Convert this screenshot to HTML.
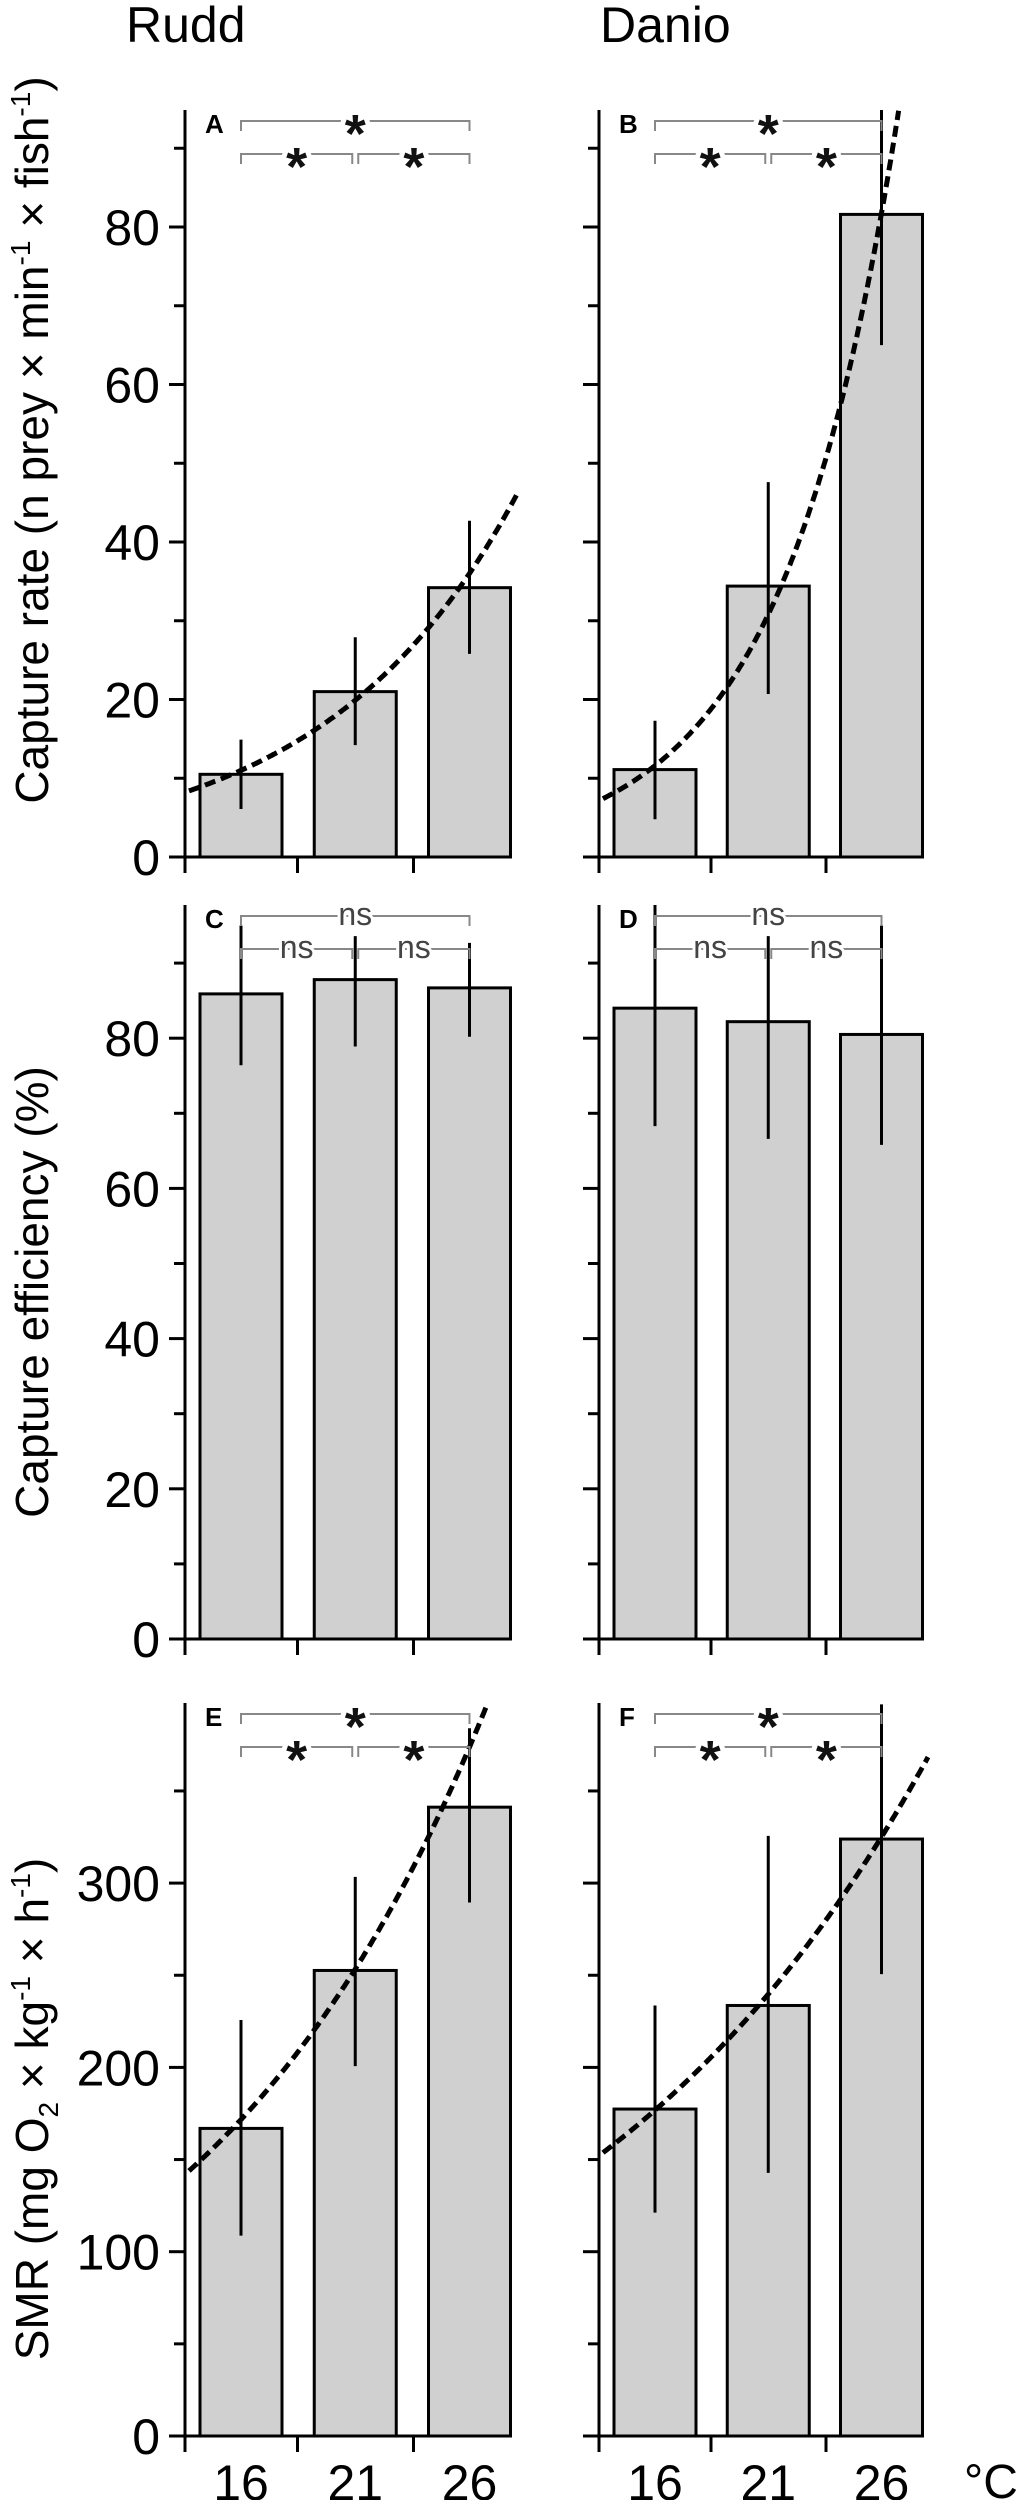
<!DOCTYPE html>
<html><head><meta charset="utf-8"><title>Capture rate, efficiency and SMR</title>
<style>
html,body{margin:0;padding:0;background:#fff;}
svg{display:block;font-family:"Liberation Sans",Arial,sans-serif;}
</style></head>
<body>
<svg id="fig" width="1021" height="2500" viewBox="0 0 1021 2500" xmlns="http://www.w3.org/2000/svg">
<text x="126" y="42" font-size="50">Rudd</text>
<text x="600" y="42" font-size="50">Danio</text>
<text transform="translate(48,440) rotate(-90)" text-anchor="middle" font-size="46">Capture rate (n prey × min<tspan font-size="28" dy="-18">-1</tspan><tspan dy="18"> × fish</tspan><tspan font-size="28" dy="-18">-1</tspan><tspan dy="18">)</tspan></text>
<text transform="translate(48,1292) rotate(-90)" text-anchor="middle" font-size="46">Capture efficiency (%)</text>
<text transform="translate(48,2109) rotate(-90)" text-anchor="middle" font-size="46">SMR (mg O<tspan font-size="28" dy="10">2</tspan><tspan dy="-10"> × kg</tspan><tspan font-size="28" dy="-18">-1</tspan><tspan dy="18"> × h</tspan><tspan font-size="28" dy="-18">-1</tspan><tspan dy="18">)</tspan></text>
<text x="964" y="2498" font-size="48">°C</text>
</svg>
<script>
// ---- data ----
const temps = [16, 21, 26];
const rateRudd = [10.5, 21, 34.2];
const rateRuddLo = [6.1, 14.2, 25.8];
const rateRuddHi = [14.9, 27.9, 42.7];
const rateDanio = [11.1, 34.4, 81.6];
const rateDanioLo = [4.8, 20.7, 65];
const rateDanioHi = [17.3, 47.6, 96.4];
const effRudd = [85.9, 87.8, 86.7];
const effRuddLo = [76.4, 78.9, 80.2];
const effRuddHi = [95, 93.6, 92.7];
const effDanio = [84, 82.2, 80.5];
const effDanioLo = [68.3, 66.6, 65.8];
const effDanioHi = [98.6, 93.6, 95];
const smrRudd = [166.9, 252.6, 341.2];
const smrRuddLo = [108.7, 200.7, 289.5];
const smrRuddHi = [225.7, 303.4, 384];
const smrDanio = [177.4, 233.6, 323.9];
const smrDanioLo = [121.2, 142.8, 250.6];
const smrDanioHi = [233.6, 325.6, 397];
// exponential fits: [value at 16 °C, rate per °C]
const fitRateRudd = [11, 0.1186];
const fitRateDanio = [11.6, 0.1953];
const fitSmrRudd = [171.7, 0.0778];
const fitSmrDanio = [176.8, 0.0609];
const rateTicks = [0, 20, 40, 60, 80];
const effTicks = [0, 20, 40, 60, 80];
const smrTicks = [0, 100, 200, 300];
const xTickLabels = ["16", "21", "26"];

const NS = "http://www.w3.org/2000/svg";
const svg = document.getElementById("fig");
function mk(tag, attrs, parent) {
  const e = document.createElementNS(NS, tag);
  for (const k in attrs) e.setAttribute(k, attrs[k]);
  (parent || svg).appendChild(e);
  return e;
}

const cols = [
  { axisX: 185, c16: 241, perDeg: 22.85, tickXs: [297.5, 413.5], xEnd: 510 },
  { axisX: 599, c16: 655, perDeg: 22.65, tickXs: [711, 826], xEnd: 923 }
];
const rows = [
  { y0: 857, ppu: 7.875, top: 110, ticks: rateTicks, minor: 10, sig: "*" },
  { y0: 1639, ppu: 7.51, top: 905, ticks: effTicks, minor: 10, sig: "ns" },
  { y0: 2436, ppu: 1.843, top: 1703, ticks: smrTicks, minor: 50, sig: "*" }
];
const panels = [
  { id: "a", r: 0, c: 0, v: rateRudd, lo: rateRuddLo, hi: rateRuddHi, fit: fitRateRudd },
  { id: "b", r: 0, c: 1, v: rateDanio, lo: rateDanioLo, hi: rateDanioHi, fit: fitRateDanio },
  { id: "c", r: 1, c: 0, v: effRudd, lo: effRuddLo, hi: effRuddHi, fit: null },
  { id: "d", r: 1, c: 1, v: effDanio, lo: effDanioLo, hi: effDanioHi, fit: null },
  { id: "e", r: 2, c: 0, v: smrRudd, lo: smrRuddLo, hi: smrRuddHi, fit: fitSmrRudd },
  { id: "f", r: 2, c: 1, v: smrDanio, lo: smrDanioLo, hi: smrDanioHi, fit: fitSmrDanio }
];

panels.forEach(p => {
  const R = rows[p.r], C = cols[p.c];
  const g = mk("g", {});
  
  
  const yS = v => R.y0 - v * R.ppu;
  const xS = t => C.c16 + (t - 16) * C.perDeg;
  const ymax = (R.y0 - R.top) / R.ppu;

  temps.forEach((t, i) => {
    const cx = xS(t), w = 82;
    const b = mk("rect", { x: cx - w / 2, y: yS(p.v[i]), width: w, height: R.y0 - yS(p.v[i]), fill: "#d0d0d0", stroke: "#000", "stroke-width": 3 }, g);
    
    
  });
  temps.forEach((t, i) => {
    const cx = xS(t);
    const e = mk("line", { x1: cx, x2: cx, y1: yS(p.lo[i]), y2: yS(Math.min(p.hi[i], ymax)), stroke: "#000", "stroke-width": 3 }, g);
    
    
  });
  if (p.fit) {
    let d = "";
    const t0 = 16 + (C.axisX + 4 - C.c16) / C.perDeg;
    for (let t = t0; t <= 28.1; t += 0.05) {
      const val = p.fit[0] * Math.exp(p.fit[1] * (t - 16));
      if (val > ymax) break;
      d += (d ? "L" : "M") + xS(t).toFixed(1) + "," + yS(val).toFixed(1);
    }
    const cv = mk("path", { d: d, fill: "none", stroke: "#000", "stroke-width": 5, "stroke-dasharray": "11 6" }, g);
    
    
  }
  const ya = mk("line", { x1: C.axisX, x2: C.axisX, y1: R.top, y2: R.y0 + 16, stroke: "#000", "stroke-width": 3 }, g);
  
  
  for (let v = 0; v <= ymax; v += R.minor) {
    const major = R.ticks.indexOf(v) >= 0;
    const tk = mk("line", { x1: C.axisX - (major ? 16 : 11), x2: C.axisX, y1: yS(v), y2: yS(v), stroke: "#000", "stroke-width": 3 }, g);
    
    
  }
  if (p.c === 0) {
    R.ticks.forEach(v => {
      const tl = mk("text", { x: 160, y: yS(v) + 18, "text-anchor": "end", "font-size": 50 }, g);
      tl.textContent = v;
      
      
    });
  }
  const xa = mk("line", { x1: C.axisX - 16, x2: C.xEnd, y1: R.y0, y2: R.y0, stroke: "#000", "stroke-width": 3 }, g);
  
  
  C.tickXs.forEach(tx => {
    const tk = mk("line", { x1: tx, x2: tx, y1: R.y0, y2: R.y0 + 16, stroke: "#000", "stroke-width": 3 }, g);
    
    
  });
  if (p.r === 2) {
    temps.forEach((t, i) => {
      const xl = mk("text", { x: xS(t), y: 2500, "text-anchor": "middle", "font-size": 50 }, g);
      xl.textContent = xTickLabels[i];
      
      
    });
  }
  const pl = mk("text", { x: C.axisX + 20, y: R.top + 23, "font-size": 26, "font-weight": "bold" }, g);
  pl.textContent = p.id.toUpperCase();
  
  
  const xs = temps.map(xS);
  const brs = [
    [xs[0], xs[2], R.top + 11],
    [xs[0], xs[1] - 3, R.top + 44],
    [xs[1] + 3, xs[2], R.top + 44]
  ];
  brs.forEach((b, k) => {
    const br = mk("path", { d: `M${b[0]},${b[2] + 10}V${b[2]}H${b[1]}V${b[2] + 10}`, fill: "none", stroke: "#888", "stroke-width": 2 }, g);
    
    
    const mid = (b[0] + b[1]) / 2;
    const isStar = R.sig === "*";
    const st = mk("text", { x: mid, y: b[2] + (isStar ? 31 : 9), "text-anchor": "middle", "font-size": isStar ? 54 : 32, "font-weight": isStar ? "bold" : "normal", fill: isStar ? "#111" : "#444", stroke: "#fff", "stroke-width": isStar ? 10 : 6, "paint-order": "stroke" }, g);
    st.textContent = R.sig;
    
    
  });
});
</script>
</body></html>
